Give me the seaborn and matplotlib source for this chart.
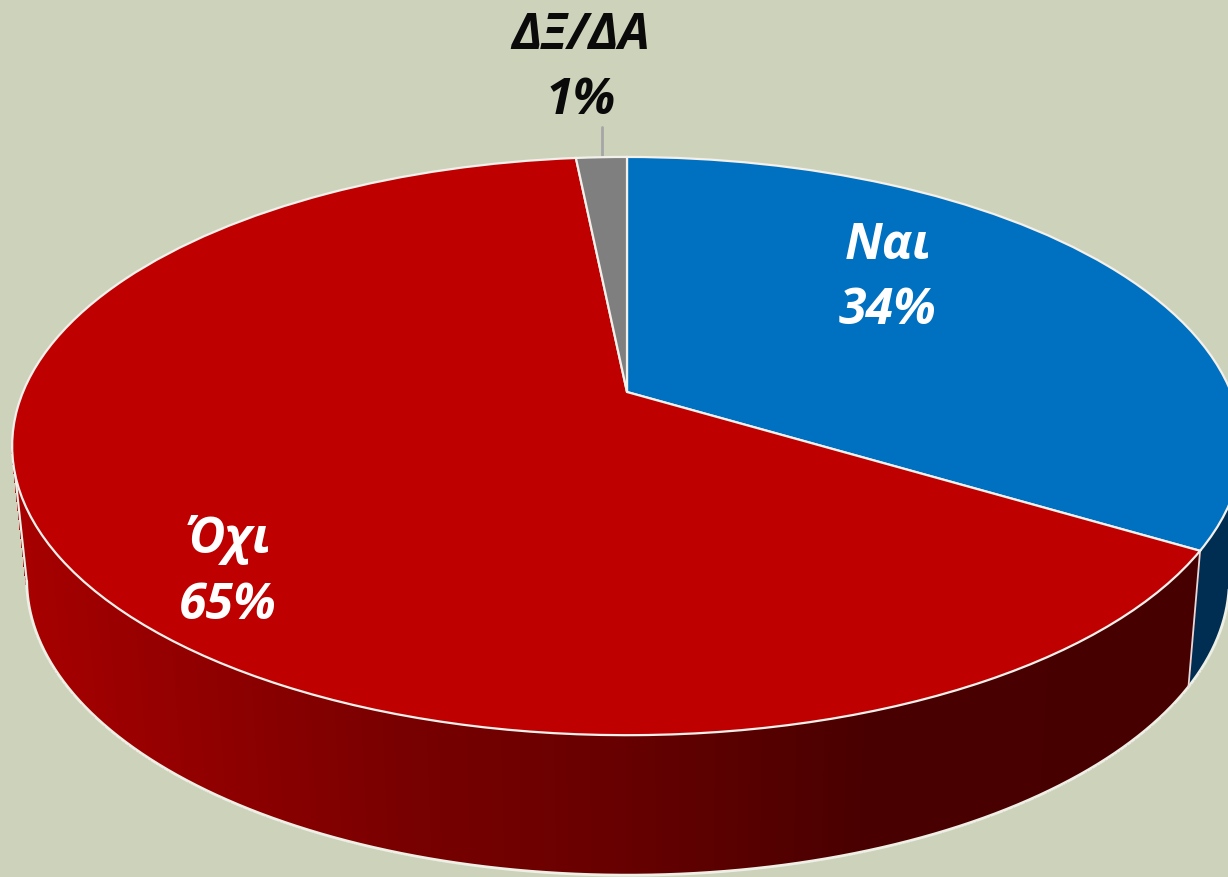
import numpy as np
import seaborn as sns
import matplotlib.pyplot as plt
from matplotlib.transforms import Transform
from matplotlib.colors import LinearSegmentedColormap

labels = ['Ναι', 'Όχι', 'ΔΞ/ΔΑ']
values = [33.6, 64.8, 1.6]
pct_labels = ['34%', '65%', '1%']
top_colors = ['#0070C0', '#BF0000', '#7F7F7F']

BG = '#CDD2BB'
# perspective of the tilted disc, in pixels
CX, CY = 627, 392
A, B, K = 604, 279, 0.187
# the wall shows between these two rim angles (where the ellipse is widest)
WALL_FROM, WALL_TO = -169, -11


class Tilt(Transform):
    input_dims = 2
    output_dims = 2

    def transform_non_affine(self, xy):
        xy = np.asarray(xy, dtype=float)
        w = 1 + K * xy[:, 1]
        return np.column_stack([CX + A * xy[:, 0] / w, CY - B * xy[:, 1] / w])


def rim(theta):
    # theta in degrees -> top rim and bottom rim pixels
    t = np.radians(theta)
    top = Tilt().transform_non_affine(np.column_stack([np.cos(t), np.sin(t)]))
    base = top.copy()
    base[:, 0] = CX + 1 + 0.978 * (top[:, 0] - CX)
    base[:, 1] = top[:, 1] + 132.6 + 0.0215 * (top[:, 1] - CY)
    return top, base


sns.set_theme(style='white')
plt.rcParams['font.family'] = ['Open Sans', 'DejaVu Sans']

fig = plt.figure(figsize=(12.28, 8.77), dpi=100, facecolor=BG)
ax = fig.add_axes([0, 0, 1, 1])

wedges, _ = ax.pie(values, colors=top_colors, startangle=90, counterclock=False,
                   wedgeprops={'edgecolor': '#F4F0EC', 'linewidth': 1.6})
ax.set_aspect('auto')
ax.set_xlim(0, 1228)
ax.set_ylim(877, 0)
ax.set_facecolor(BG)
ax.axis('off')

for w in wedges:
    w.set_transform(Tilt() + ax.transData)
    w.set_zorder(5)

# side wall, red gets a left to right shade
red_shade = LinearSegmentedColormap.from_list(
    'side', [(0, '#A80000'), (0.33, '#780000'), (0.5, '#680000'),
             (0.72, '#480000'), (1, '#470000')])

for w, kind in zip(wedges[:2], ['blue', 'red']):
    thetas = np.linspace(max(w.theta1, WALL_FROM), min(w.theta2, WALL_TO), 300)
    top, base = rim(thetas)
    for i in range(len(thetas) - 1):
        poly = np.vstack([top[i], top[i + 1], base[i + 1], base[i]])
        if kind == 'red':
            c = red_shade((poly[:, 0].mean() - 12) / 1200)
        else:
            c = '#002E52'
        ax.fill(poly[:, 0], poly[:, 1], color=c, lw=0.5, antialiased=False, zorder=2)

# outline of the wall
thetas = np.linspace(WALL_FROM, WALL_TO, 400)
top, base = rim(thetas)
ax.plot(base[:, 0], base[:, 1], color='#EEF0E6', lw=2, zorder=3)
ax.plot([top[0, 0], base[0, 0]], [top[0, 1], base[0, 1]], color='#EEF0E6', lw=1.6, zorder=3)

# white edge at the split of the two walls
top, base = rim(np.array([wedges[0].theta1]))
ax.plot([top[0, 0], base[0, 0]], [top[0, 1], base[0, 1]], color='#E8D8D8', lw=1.3, zorder=4)

# leader line for the small slice
ax.plot([602, 602], [127, 158], color='#A6A6A6', lw=2, zorder=4)

label_pos = [(888, 246, 311, 'white'), (228, 540, 606, 'white'), (581, 36, 101, '#0A0A0A')]
for name, pct, (x, y1, y2, col) in zip(labels, pct_labels, label_pos):
    ax.text(x, y1, name, color=col, fontsize=36, fontweight='bold', fontstyle='italic',
            ha='center', va='center', zorder=6)
    ax.text(x, y2, pct, color=col, fontsize=36, fontweight='bold', fontstyle='italic',
            ha='center', va='center', zorder=6)

fig.savefig('out.png', dpi=100, facecolor=BG)
